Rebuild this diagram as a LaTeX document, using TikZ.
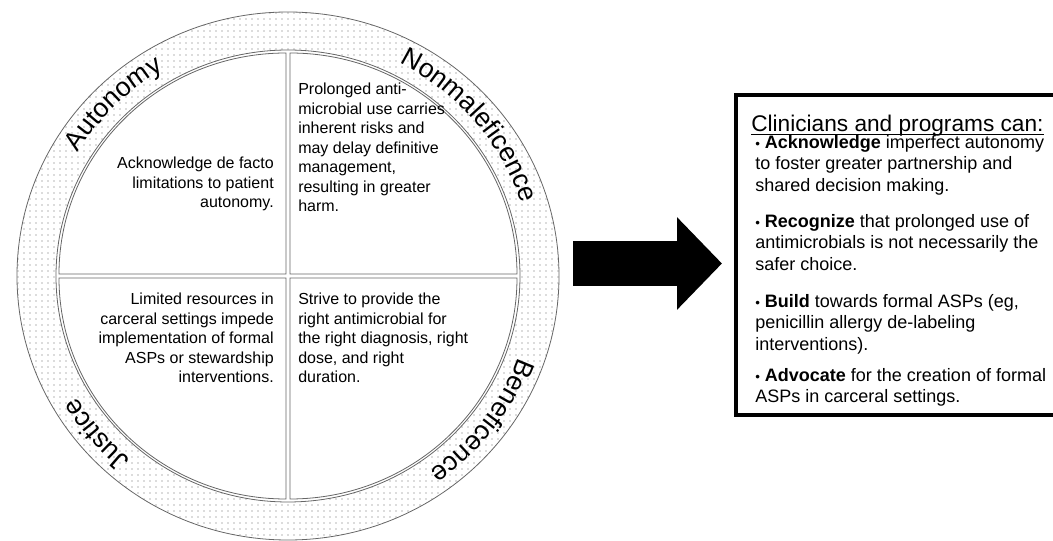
\documentclass[tikz,border=0pt]{standalone}
\usepackage{fontspec}
\setmainfont{Liberation Sans}
\usetikzlibrary{patterns.meta,decorations.text,arrows.meta}

\newcommand{\bandfont}{\fontsize{20}{22}\selectfont}
\newcommand{\cellfont}{\fontsize{12}{14.6}\selectfont}
\newcommand{\listfont}{\fontsize{13.5}{16.1}\selectfont}
\newcommand{\dotitem}{{\fontsize{10}{10}\selectfont\textbullet}\ }

\tikzset{
  ringline/.style={draw=black!60, line width=0.6pt},
  quadrant/.style={ringline, fill=white},
  cell/.style={font=\cellfont, inner sep=0pt},
  item/.style={font=\listfont, inner sep=0pt, anchor=north west, align=left},
  bandlabel/.style={decorate, decoration={text along path, text align=center, text={|\bandfont|#1}}}
}

\begin{document}
\begin{tikzpicture}[x=0.75pt, y=0.75pt]
    \useasboundingbox (-288,-265) rectangle (765,276);

    % Anillo punteado
    \path[pattern={Dots[distance=4.5pt,radius=0.4pt]}, pattern color=black!60, even odd rule]
        (0,0) ellipse[x radius=271, y radius=264] (0,0) ellipse[x radius=232, y radius=226];
    \draw[ringline] (0,0) ellipse[x radius=271, y radius=264];
    \draw[ringline] (0,0) ellipse[x radius=232, y radius=226];

    % Cuadrantes
    \foreach \a/\dx/\dy in {0/2/2, 90/-2/2, 180/-2/-2, 270/2/-2} {
        \draw[quadrant, shift={(\dx,\dy)}] (0,0) -- (\a:227 and 221)
            arc[start angle=\a, end angle=\a+90, x radius=227, y radius=221] -- cycle;
    }

    % Principios
    \path[bandlabel=Autonomy] (175:245 and 239) arc[start angle=175, end angle=95, x radius=245, y radius=239];
    \path[bandlabel=Nonmaleficence] (87:245 and 239) arc[start angle=87, end angle=-7, x radius=245, y radius=239];
    \path[bandlabel=Beneficence] (3:245 and 239) arc[start angle=3, end angle=-77, x radius=245, y radius=239];
    \path[bandlabel=Justice] (260:245 and 239) arc[start angle=260, end angle=180, x radius=245, y radius=239];

    \node[cell, anchor=north east, align=right] (autonomy) at (-14,119)
        {Acknowledge de facto\\limitations to patient\\autonomy.};
    \node[cell, anchor=north west, align=left] (nonmaleficence) at (10,193)
        {Prolonged anti-\\microbial use carries\\inherent risks and\\may delay definitive\\management,\\resulting in greater\\harm.};
    \node[cell, anchor=north east, align=right] (justice) at (-14,-17)
        {Limited resources in\\carceral settings impede\\implementation of formal\\ASPs or stewardship\\interventions.};
    \node[cell, anchor=north west, align=left] (beneficence) at (10,-17)
        {Strive to provide the\\right antimicrobial for\\the right diagnosis, right\\dose, and right\\duration.};

    % Flecha
    \coordinate (from) at (285,12.5);
    \coordinate (to) at (434,12.5);
    \draw[line width=33.75pt, -{Triangle[length=33.75pt,width=67.5pt]}] (from) -- (to);

    % Recuadro
    \draw[line width=3.5pt] (448,181) rectangle (770,-139);
    \node[font=\fontsize{17}{20}\selectfont, inner sep=0pt, anchor=west] (title) at (463,150)
        {Clinicians and programs can:};
    \draw[line width=0.8pt] ([yshift=-2pt]title.base west) -- ([yshift=-2pt]title.base east);

    \node[item] (acknowledge) at (467,141)
        {\dotitem\textbf{Acknowledge} imperfect autonomy\\to foster greater partnership and\\shared decision making.};
    \node[item] (recognize) at (467,62)
        {\dotitem\textbf{Recognize} that prolonged use of\\antimicrobials is not necessarily the\\safer choice.};
    \node[item] (build) at (467,-18)
        {\dotitem\textbf{Build} towards formal ASPs (eg,\\penicillin allergy de-labeling\\interventions).};
    \node[item] (advocate) at (467,-92)
        {\dotitem\textbf{Advocate} for the creation of formal\\ASPs in carceral settings.};
\end{tikzpicture}
\end{document}
